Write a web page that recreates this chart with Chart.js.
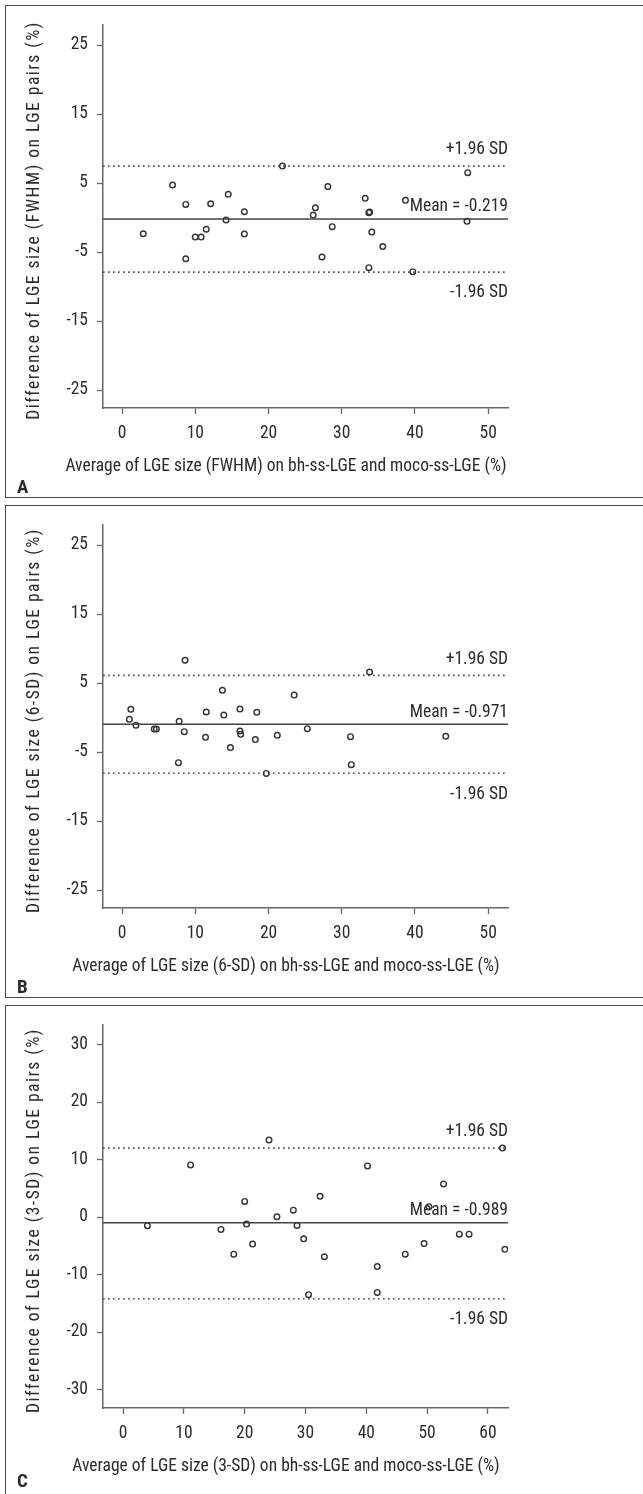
<!DOCTYPE html>
<html>
<head>
<meta charset="utf-8">
<script src="https://cdn.jsdelivr.net/npm/chart.js@4.4.1/dist/chart.umd.min.js"></script>
<style>
  html, body { margin: 0; padding: 0; background: #fff; }
  body { width: 643px; height: 1494px; position: relative; overflow: hidden; }
  .panel { position: absolute; left: 5px; width: 680px; border: 1.5px solid #444; box-sizing: border-box; }
  .wrap { position: absolute; left: 0; width: 643px; height: 500px; }
</style>
</head>
<body>
<div class="panel" style="top:5px;height:493px"></div>
<div class="panel" style="top:505px;height:493px"></div>
<div class="panel" style="top:1005px;height:540px"></div>
<div class="wrap" style="top:0"><canvas id="chart-a"></canvas></div>
<div class="wrap" style="top:500px"><canvas id="chart-b"></canvas></div>
<div class="wrap" style="top:1000px"><canvas id="chart-c"></canvas></div>
<script>
const FONT = "'Roboto Condensed', Roboto, sans-serif";
const FONT_SIZE = 17.5;
const TEXT = '#2b2b2b';
const AXIS = '#666';

// A - FWHM
const avgA = [2.9, 6.9, 8.7, 8.7, 10.0, 10.8, 11.5, 12.1, 14.2, 14.5, 16.7, 16.7, 21.9, 26.1,
  26.4, 28.1, 28.7, 27.3, 33.2, 33.7, 33.8, 34.1, 35.6, 33.7, 39.7, 38.7, 47.2, 47.1];
const diffA = [-2.35, 4.7, 1.9, -5.97, -2.83, -2.83, -1.7, 2.0, -0.36, 3.36, 0.84, -2.4, 7.46, 0.36,
  1.42, 4.5, -1.33, -5.72, 2.78, 0.7, 0.8, -2.1, -4.2, -7.27, -7.85, 2.5, 6.5, -0.55];
const limitsA = { mean: -0.219, upper: 7.46, lower: -7.9 };

// B - 6-SD
const avgB = [8.6, 33.8, 13.7, 23.5, 1.2, 1.0, 1.9, 4.4, 4.7, 7.8, 8.5, 11.5, 11.4, 13.9,
  16.1, 16.1, 16.2, 18.4, 18.2, 14.8, 21.2, 25.3, 31.2, 44.2, 7.7, 19.7, 31.3];
const diffB = [8.3, 6.6, 3.94, 3.26, 1.19, -0.26, -1.13, -1.67, -1.67, -0.55, -2.05, 0.8, -2.87, 0.36,
  1.23, -1.96, -2.43, 0.75, -3.2, -4.36, -2.58, -1.61, -2.77, -2.72, -6.54, -8.1, -6.83];
const limitsB = { mean: -0.971, upper: 6.12, lower: -8.07 };

// C - 3-SD
const avgC = [4.0, 11.1, 16.1, 20.0, 20.3, 21.3, 24.0, 25.3, 28.0, 28.6, 29.7, 32.4, 40.2,
  50.3, 52.7, 55.3, 56.9, 62.4, 49.5, 18.2, 33.1, 41.8, 30.5, 41.8, 46.4, 62.8];
const diffC = [-1.5, 9.07, -2.15, 2.73, -1.22, -4.7, 13.4, 0.06, 1.2, -1.45, -3.78, 3.6, 8.9,
  1.8, 5.76, -2.97, -2.97, 12.0, -4.6, -6.45, -6.9, -8.6, -13.5, -13.1, -6.45, -5.6];
const limitsC = { mean: -0.989, upper: 12.0, lower: -14.2 };

const xTicksAB = [0, 10, 20, 30, 40, 50];
const yTicksAB = [-25, -15, -5, 5, 15, 25];
const xTicksC = [0, 10, 20, 30, 40, 50, 60];
const yTicksC = [-30, -20, -10, 0, 10, 20, 30];

const xRangeAB = [-2.6, 52.7];
const yRangeAB = [-27.6, 27.9];
const xRangeC = [-3.3, 63.3];
const yRangeC = [-33.2, 33.4];

// draws the limit labels, axis titles and panel letter
const panelText = {
  id: 'panelText',
  afterDraw(chart, args, opts) {
    const { ctx, chartArea: area, scales: { y } } = chart;
    ctx.save();
    ctx.fillStyle = TEXT;
    ctx.font = `${FONT_SIZE}px ${FONT}`;
    ctx.textBaseline = 'middle';
    ctx.textAlign = 'right';
    ctx.fillText('+1.96 SD', area.right, y.getPixelForValue(opts.limits.upper) - 16);
    ctx.fillText(`Mean = ${opts.limits.mean}`, area.right, y.getPixelForValue(opts.limits.mean) - 12);
    ctx.fillText('-1.96 SD', area.right, y.getPixelForValue(opts.limits.lower) + 21);

    ctx.textAlign = 'center';
    ctx.fillText(opts.xTitle, 286, area.bottom + 59);

    // the y title is spaced out a little in the original
    ctx.save();
    ctx.letterSpacing = '1.5px';
    ctx.translate(35, (area.top + area.bottom) / 2 + 4);
    ctx.rotate(-Math.PI / 2);
    ctx.fillText(opts.yTitle, 0, 0);
    ctx.restore();

    ctx.font = `bold 19px ${FONT}`;
    ctx.textAlign = 'left';
    ctx.fillText(opts.letter, 17, opts.letterY);
    ctx.restore();
  }
};

const hLine = (xRange, value, dash) => ({
  type: 'line',
  data: [{ x: xRange[0], y: value }, { x: xRange[1], y: value }],
  borderColor: dash ? '#555' : '#444',
  borderWidth: dash ? 1.7 : 1.5,
  borderDash: dash ? [1.7, 3.3] : [],
  pointRadius: 0,
  order: 2
});

const makePanel = (id, avg, diff, limits, xRange, yRange, xTicks, yTicks, xTitle, yTitle, letter, letterY) => {
  const ctx = document.getElementById(id);
  const datasets = [
    {
      type: 'scatter',
      data: avg.map((x, i) => ({ x, y: diff[i] })),
      pointRadius: 2.8,
      pointBorderWidth: 1.4,
      pointBorderColor: '#333',
      pointBackgroundColor: 'rgba(0,0,0,0)',
      order: 1
    },
    hLine(xRange, limits.mean, false),
    hLine(xRange, limits.upper, true),
    hLine(xRange, limits.lower, true)
  ];

  const axis = (range, ticks) => ({
    type: 'linear',
    min: range[0],
    max: range[1],
    afterBuildTicks: (scale) => { scale.ticks = ticks.map((value) => ({ value })); },
    grid: { drawOnChartArea: false, drawTicks: true, tickLength: 6, tickColor: AXIS, tickWidth: 1.3 },
    border: { display: true, color: AXIS, width: 1.5 },
    ticks: { color: TEXT, font: { family: FONT, size: FONT_SIZE }, padding: 9 }
  });

  const x = axis(xRange, xTicks);
  x.position = 'bottom';
  x.afterFit = (scale) => { scale.height = 92; };
  x.ticks.padding = 9;
  const y = axis(yRange, yTicks);
  y.position = 'left';
  y.afterFit = (scale) => { scale.width = 103; };

  new Chart(ctx, {
    type: 'scatter',
    data: { datasets },
    options: {
      responsive: true,
      maintainAspectRatio: false,
      animation: false,
      layout: { padding: { left: 0, top: 25, right: 135, bottom: 0 } },
      scales: { x, y },
      plugins: {
        legend: { display: false },
        tooltip: { enabled: false },
        panelText: { limits, xTitle, yTitle, letter, letterY }
      }
    },
    plugins: [panelText]
  });
};

makePanel('chart-a', avgA, diffA, limitsA, xRangeAB, yRangeAB, xTicksAB, yTicksAB,
  'Average of LGE size (FWHM) on bh-ss-LGE and moco-ss-LGE (%)',
  'Difference of LGE size (FWHM) on LGE pairs (%)', 'A', 488);
makePanel('chart-b', avgB, diffB, limitsB, xRangeAB, yRangeAB, xTicksAB, yTicksAB,
  'Average of LGE size (6-SD) on bh-ss-LGE and moco-ss-LGE (%)',
  'Difference of LGE size (6-SD) on LGE pairs (%)', 'B', 488);
makePanel('chart-c', avgC, diffC, limitsC, xRangeC, yRangeC, xTicksC, yTicksC,
  'Average of LGE size (3-SD) on bh-ss-LGE and moco-ss-LGE (%)',
  'Difference of LGE size (3-SD) on LGE pairs (%)', 'C', 482);
</script>
</body>
</html>
